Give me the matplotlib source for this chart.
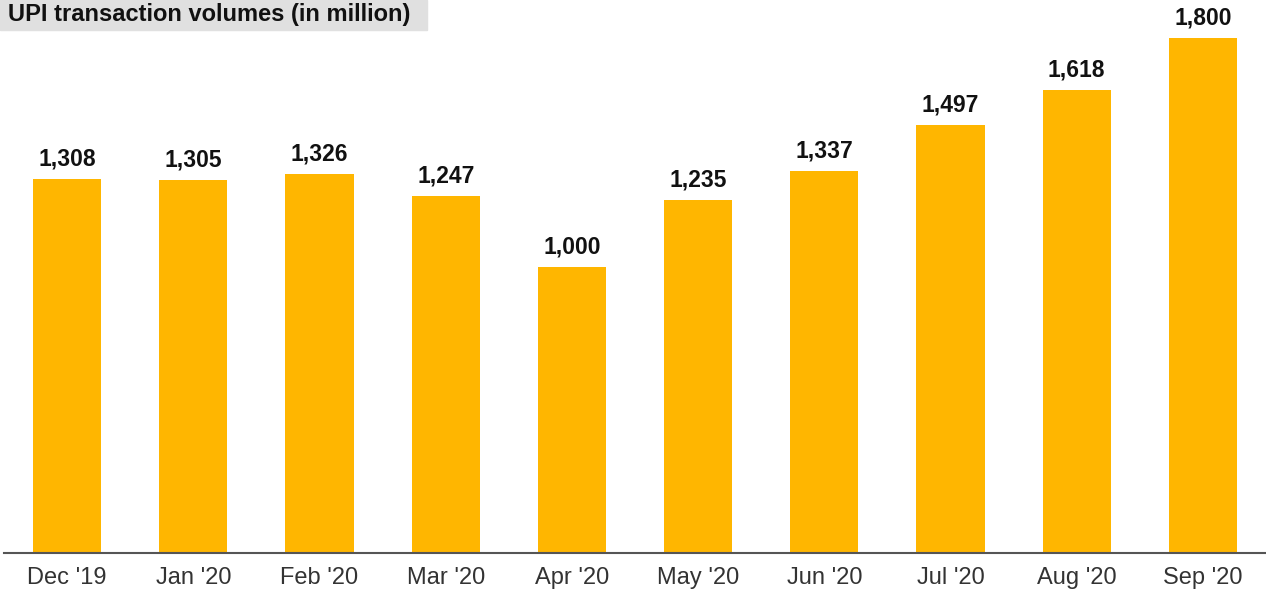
import matplotlib.pyplot as plt

months = ["Dec '19", "Jan '20", "Feb '20", "Mar '20", "Apr '20",
          "May '20", "Jun '20", "Jul '20", "Aug '20", "Sep '20"]
volumes = [1308, 1305, 1326, 1247, 1000, 1235, 1337, 1497, 1618, 1800]

plt.rcParams['font.family'] = ['Liberation Sans', 'DejaVu Sans']

fig = plt.figure(figsize=(12.66, 5.91), dpi=100)
ax = fig.add_axes([4 / 1266, 38 / 591, 1262 / 1266, 553 / 591])

x = range(len(months))
bars = ax.bar(x, volumes, width=0.54, color='#FFB600', zorder=2)

for b, v in zip(bars, volumes):
    ax.annotate(f"{v:,}", (b.get_x() + b.get_width() / 2, v),
                xytext=(0, 6), textcoords='offset points',
                ha='center', va='bottom', fontsize=16.5, fontweight='bold',
                color='#111111')

ax.set_xlim(-0.5, len(months) - 0.5)
ax.set_ylim(0, 1933)
ax.set_xticks(list(x))
ax.set_xticklabels(months, fontsize=17, color='#333333')
ax.tick_params(axis='x', length=0, pad=10)
ax.set_yticks([])

for s in ['top', 'right', 'left']:
    ax.spines[s].set_visible(False)
ax.spines['bottom'].set_color('#555555')
ax.spines['bottom'].set_linewidth(1.5)

# titolo con fondo grigio
fig.patches.append(plt.Rectangle((0, 1 - 30 / 591), 427 / 1266, 30 / 591,
                                 transform=fig.transFigure, color='#E0E0E0',
                                 zorder=0))
fig.text(8 / 1266, 1 - 15 / 591, "UPI transaction volumes (in million)",
         fontsize=17, fontweight='bold', color='#111111', va='center', ha='left')

fig.savefig('out.png', dpi=100)
